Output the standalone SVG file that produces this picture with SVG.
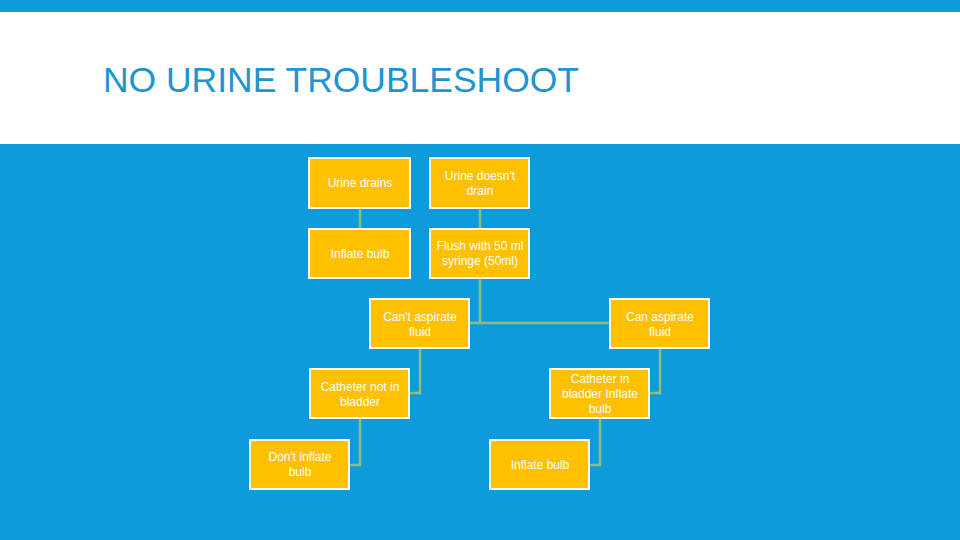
<svg xmlns="http://www.w3.org/2000/svg" width="960" height="540" viewBox="0 0 960 540">
<style>
.bx{fill:#FFC000;stroke:#FFFFFF;stroke-width:2}
.t{font-family:"Liberation Sans Narrow","Liberation Sans",Arial,sans-serif;font-size:12px;fill:#FFFFFF;text-anchor:middle}
.c{fill:none;stroke:#8DBE7E;stroke-width:2.5}
</style>
<rect x="0" y="0" width="960" height="540" fill="#0E9BDB"/>
<rect x="0" y="12" width="960" height="132" fill="#FFFFFF"/>
<text x="103" y="92" font-family="Liberation Sans Narrow,Liberation Sans,sans-serif" font-size="35" fill="#1E95CF" textLength="476" lengthAdjust="spacingAndGlyphs">NO URINE TROUBLESHOOT</text>
<g id="connectors">
<path class="c" d="M360 208V229"/>
<path class="c" d="M480 208V229"/>
<path class="c" d="M480 278V323M469 323H610"/>
<path class="c" d="M420 348V393H409"/>
<path class="c" d="M660 348V393H649"/>
<path class="c" d="M360 418V465H349"/>
<path class="c" d="M600 418V465H589"/>
</g>
<g id="n1"><rect class="bx" x="309" y="158" width="101" height="50"/><text class="t" x="360" y="187">Urine drains</text></g>
<g id="n2"><rect class="bx" x="430" y="158" width="99" height="50"/><text class="t" x="480" y="180">Urine doesn't</text><text class="t" x="480" y="195">drain</text></g>
<g id="n3"><rect class="bx" x="309" y="229" width="101" height="49"/><text class="t" x="360" y="258">Inflate bulb</text></g>
<g id="n4"><rect class="bx" x="430" y="229" width="99" height="49"/><text class="t" x="480" y="250">Flush with 50 ml</text><text class="t" x="480" y="265">syringe (50ml)</text></g>
<g id="n5"><rect class="bx" x="370" y="299" width="99" height="49"/><text class="t" x="420" y="321">Can't aspirate</text><text class="t" x="420" y="336">fluid</text></g>
<g id="n6"><rect class="bx" x="610" y="299" width="99" height="49"/><text class="t" x="660" y="321">Can aspirate</text><text class="t" x="660" y="336">fluid</text></g>
<g id="n7"><rect class="bx" x="310" y="369" width="99" height="49"/><text class="t" x="360" y="391">Catheter not in</text><text class="t" x="360" y="406">bladder</text></g>
<g id="n8"><rect class="bx" x="550" y="369" width="99" height="49"/><text class="t" x="600" y="383">Catheter in</text><text class="t" x="600" y="398">bladder Inflate</text><text class="t" x="600" y="413">bulb</text></g>
<g id="n9"><rect class="bx" x="250" y="440" width="99" height="49"/><text class="t" x="300" y="461">Don't inflate</text><text class="t" x="300" y="476">bulb</text></g>
<g id="n10"><rect class="bx" x="490" y="440" width="99" height="49"/><text class="t" x="540" y="469">Inflate bulb</text></g>
</svg>
